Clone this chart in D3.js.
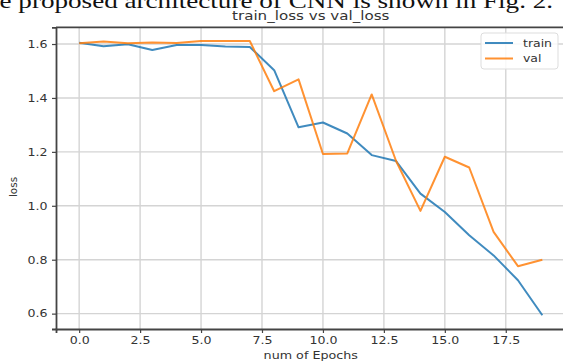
<!DOCTYPE html>
<html>
<head>
<meta charset="utf-8">
<script src="https://cdn.jsdelivr.net/npm/d3@7"></script>
<style>
  html, body { margin: 0; padding: 0; background: #fff; }
  svg { display: block; }
</style>
</head>
<body>
<svg id="chart" width="563" height="362"></svg>
<script>
// Training history: loss per epoch
const epochs = d3.range(20);
const trainLoss = [1.605, 1.592, 1.599, 1.578, 1.596, 1.596, 1.591, 1.589, 1.503, 1.291,
                   1.309, 1.268, 1.188, 1.166, 1.045, 0.977, 0.891, 0.816, 0.724, 0.594];
const valLoss   = [1.603, 1.609, 1.603, 1.606, 1.604, 1.611, 1.611, 1.611, 1.425, 1.469,
                   1.192, 1.194, 1.413, 1.166, 0.981, 1.182, 1.142, 0.903, 0.776, 0.800];
const xTicks = [0, 2.5, 5, 7.5, 10, 12.5, 15, 17.5];
const yTicks = [0.6, 0.8, 1.0, 1.2, 1.4, 1.6];
const seriesNames = ["train", "val"];
const seriesColors = ["#1f77b4", "#ff7f0e"];

const svg = d3.select("#chart");
const font = "DejaVu Sans, sans-serif";
const textColor = "#333";
const stretch = 1.2;   // the figure is rendered slightly wide

// caption line from the surrounding document, fitted to the page width
const cap = svg.append("text")
  .attr("font-family", "Liberation Serif, Times New Roman, serif")
  .attr("font-size", 20.5)
  .attr("fill", "#111")
  .text("e proposed architecture of CNN is shown in Fig. 2.");
const capLen = cap.node().getComputedTextLength();
cap.attr("transform", `translate(-0.5,7.5) scale(${554 / capLen},1)`);

const x = d3.scaleLinear().domain([-0.95, 19.95]).range([56, 565.5]);
const y = d3.scaleLinear().domain([0.543, 1.662]).range([329, 27.3]);

// grid
svg.append("g").selectAll("line").data(xTicks).join("line")
  .attr("x1", d => x(d)).attr("x2", d => x(d))
  .attr("y1", y.range()[0]).attr("y2", y.range()[1])
  .attr("stroke", "#d4d4d4").attr("stroke-width", 1.4);
svg.append("g").selectAll("line").data(yTicks).join("line")
  .attr("y1", d => y(d)).attr("y2", d => y(d))
  .attr("x1", x.range()[0]).attr("x2", x.range()[1])
  .attr("stroke", "#d4d4d4").attr("stroke-width", 1.4);

// axes
const xAxis = d3.axisBottom(x).tickValues(xTicks).tickFormat(d3.format(".1f")).tickSizeOuter(0).tickSize(4).tickPadding(4);
const yAxis = d3.axisLeft(y).tickValues(yTicks).tickFormat(d3.format(".1f")).tickSizeOuter(0).tickSize(4).tickPadding(3);

const gx = svg.append("g").attr("transform", `translate(0,${y.range()[0]})`).call(xAxis);
const gy = svg.append("g").attr("transform", `translate(${x.range()[0]},0)`).call(yAxis);
[gx, gy].forEach(g => {
  g.select(".domain").attr("stroke", "#444").attr("stroke-width", 1.8);
  g.selectAll(".tick line").attr("stroke", "#444").attr("stroke-width", 1.2);
  g.selectAll(".tick text").attr("font-family", font).attr("font-size", 10.5).attr("fill", textColor)
    .attr("transform", `scale(${stretch},1)`);
});

// top and right frame
svg.append("line").attr("x1", x.range()[0]).attr("x2", x.range()[1])
  .attr("y1", y.range()[1]).attr("y2", y.range()[1])
  .attr("stroke", "#444").attr("stroke-width", 1.8);
svg.append("line").attr("x1", x.range()[1]).attr("x2", x.range()[1])
  .attr("y1", y.range()[0]).attr("y2", y.range()[1])
  .attr("stroke", "#444").attr("stroke-width", 1.8);

// loss lines
const line = d3.line().x((d, i) => x(epochs[i])).y(d => y(d));
[trainLoss, valLoss].forEach((s, k) => {
  svg.append("path").datum(s)
    .attr("d", line)
    .attr("fill", "none")
    .attr("stroke", seriesColors[k])
    .attr("stroke-width", 2)
    .attr("stroke-linejoin", "round")
    .attr("opacity", 0.85);
});

// titles
const midX = (x.range()[0] + x.range()[1]) / 2;
svg.append("text").attr("transform", `translate(${midX},20) scale(${stretch},1)`).attr("text-anchor", "middle")
  .attr("font-family", font).attr("font-size", 12.6).attr("fill", textColor)
  .text("train_loss vs val_loss");
svg.append("text").attr("transform", `translate(${midX},359) scale(${stretch},1)`).attr("text-anchor", "middle")
  .attr("font-family", font).attr("font-size", 10.6).attr("fill", textColor)
  .text("num of Epochs");
svg.append("text").attr("transform", "translate(17,187) rotate(-90)").attr("text-anchor", "middle")
  .attr("font-family", font).attr("font-size", 10.4).attr("fill", textColor)
  .text("loss");

// legend
const lg = svg.append("g");
lg.append("rect").attr("x", 481).attr("y", 33).attr("width", 77).attr("height", 36).attr("rx", 3)
  .attr("fill", "#fff").attr("fill-opacity", 0.85).attr("stroke", "#ddd").attr("stroke-width", 1);
seriesNames.forEach((name, k) => {
  const yy = 43 + k * 15.5;
  lg.append("line").attr("x1", 485).attr("x2", 513).attr("y1", yy).attr("y2", yy)
    .attr("stroke", seriesColors[k]).attr("stroke-width", 2).attr("opacity", 0.85);
  lg.append("text").attr("transform", `translate(523,${yy + 3.8}) scale(${stretch},1)`)
    .attr("font-family", font).attr("font-size", 10.4).attr("fill", textColor).text(name);
});
</script>
</body>
</html>
